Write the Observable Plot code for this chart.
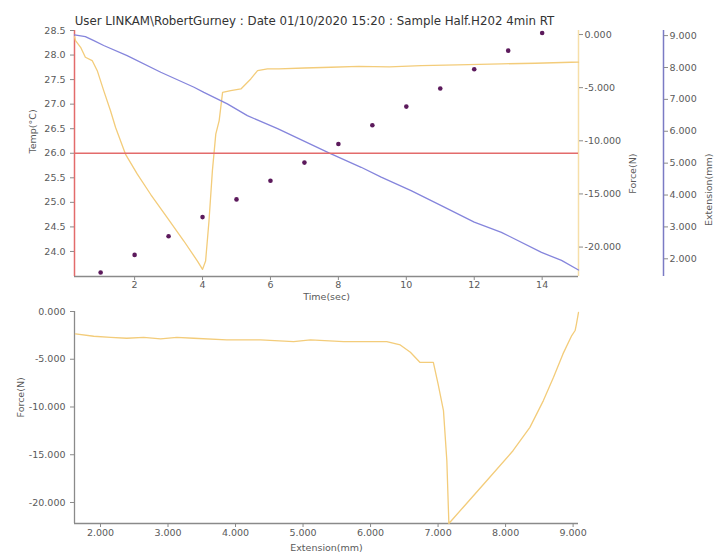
<!DOCTYPE html>
<html><head><meta charset="utf-8">
<script src="https://cdn.jsdelivr.net/npm/d3@7"></script>
<script src="https://cdn.jsdelivr.net/npm/@observablehq/plot@0.6"></script>
<style>
body{margin:0;background:#fff;}
#wrap{position:relative;width:717px;height:554px;overflow:hidden;background:#fff;}
#wrap svg{position:absolute;left:0;}
</style></head><body><div id="wrap"></div>
<script>
const title = "User LINKAM\\RobertGurney : Date 01/10/2020 15:20 : Sample Half.H202 4min RT";

// Top panel: temperature dots vs time
const dotTimes = [1,2,3,4,5,6,7,8,9,10,11,12,13,14];
const dotTemps = [23.57,23.93,24.31,24.70,25.06,25.44,25.81,26.19,26.57,26.95,27.32,27.71,28.09,28.45];
const setTemp = 26.0;

// Top panel: force vs time
const forceTimes = [0.23,0.26,0.41,0.55,0.75,0.90,1.09,1.29,1.44,1.73,2.08,2.47,2.96,3.45,3.85,4.00,4.09,4.19,4.29,4.39,4.49,4.59,4.83,5.13,5.42,5.62,5.91,6.25,7.0,7.78,8.6,9.5,10.44,11.5,12.8,13.8,14.86,15.07];
const forceVals = [-0.2,-0.57,-1.2,-2.14,-2.45,-3.4,-5.28,-7.17,-8.75,-11.25,-13.14,-15.03,-17.24,-19.43,-21.32,-22.1,-21.32,-17.55,-12.83,-9.37,-8.1,-5.44,-5.28,-5.12,-4.18,-3.4,-3.24,-3.24,-3.15,-3.08,-3.0,-3.05,-2.92,-2.85,-2.76,-2.7,-2.61,-2.6];

// Top panel: extension vs time
const extTimes = [0.23,0.55,0.80,1.09,1.78,2.77,3.75,4.04,4.73,5.32,6.21,7.72,8.67,9.26,10.14,11.03,12.0,12.8,13.98,14.57,15.07];
const extVals = [9.02,8.97,8.84,8.69,8.37,7.85,7.38,7.22,6.86,6.49,6.08,5.32,4.87,4.56,4.14,3.67,3.15,2.83,2.20,1.95,1.65];

// Bottom panel: force vs extension
const extX = [1.63,1.90,2.15,2.39,2.64,2.89,3.13,3.38,3.87,4.37,4.86,5.11,5.60,6.24,6.44,6.59,6.73,6.93,7.00,7.08,7.13,7.16,7.37,7.72,8.11,8.36,8.56,8.71,8.85,8.98,9.03,9.05,9.08];
const extForce = [-2.34,-2.59,-2.70,-2.80,-2.70,-2.86,-2.70,-2.80,-2.97,-2.97,-3.15,-2.97,-3.15,-3.15,-3.5,-4.27,-5.32,-5.32,-7.58,-10.38,-15.63,-22.2,-20.52,-17.72,-14.58,-12.13,-9.33,-6.89,-4.44,-2.52,-1.99,-1.29,-0.1];

// Ticks and domains
const timeTicks = [2,4,6,8,10,12,14];
const tempTicks = [24.0,24.5,25.0,25.5,26.0,26.5,27.0,27.5,28.0,28.5];
const forceTicks = [0,-5,-10,-15,-20];
const extTicks = [2,3,4,5,6,7,8,9];
const timeDomain = [0.23, 15.07];
const tempDomain = [23.49, 28.5];
const forceDomain = [-22.77, 0.38];
const extDomain = [1.445, 9.16];
const extDomain2 = [1.615, 9.08];
const forceDomain2 = [-22.2, 0];

const tempRows = dotTimes.map((t,i)=>({t, temp: dotTemps[i]}));
const forceRows = forceTimes.map((t,i)=>({t, f: forceVals[i]}));
const extRows = extTimes.map((t,i)=>({t, e: extVals[i]}));
const feRows = extX.map((e,i)=>({e, f: extForce[i]}));

const font = "DejaVu Sans";
const orange = "#f3cc7a";
const baseStyle = {fontFamily: font, fontSize: "9.5px", background: "transparent", color: "#5a5a5a", overflow: "visible"};
const common = {width: 717, height: 305, marginTop: 30, marginBottom: 29, marginLeft: 74, marginRight: 139, style: baseStyle};
const f3 = d => d.toFixed(3);

const A = Plot.plot({
  ...common,
  x: {domain: timeDomain},
  y: {domain: tempDomain},
  marks: [
    Plot.ruleY([tempDomain[0]], {stroke: "#8a8a8a", strokeWidth: 1.3}),
    Plot.ruleX([timeDomain[0]], {stroke: "#e36b6b", strokeWidth: 1.5}),
    Plot.axisX({ticks: timeTicks, tickSize: 4, tickPadding: 1, label: null, tickFormat: d => String(d), stroke: "#8a8a8a"}),
    Plot.axisY({ticks: tempTicks, tickSize: 4, label: null, tickFormat: d => d.toFixed(1), stroke: "#8a8a8a"}),
    Plot.text([title], {text: d => d, frameAnchor: "top", dy: -14, dx: -12, fontSize: 11.8, fill: "#333"}),
    Plot.text(["Temp(°C)"], {text: d => d, frameAnchor: "left", dx: -42, rotate: -90}),
    Plot.text(["Time(sec)"], {text: d => d, frameAnchor: "bottom", dy: 23})
  ]
});

const B = Plot.plot({
  ...common,
  x: {domain: timeDomain, axis: null},
  y: {domain: forceDomain},
  marks: [
    Plot.ruleX([timeDomain[1]], {stroke: "#f6dfa8", strokeWidth: 1.5}),
    Plot.line(forceRows, {x: "t", y: "f", stroke: orange, strokeWidth: 1.3}),
    Plot.axisY({anchor: "right", ticks: forceTicks, tickSize: 4, tickPadding: 2, label: null, tickFormat: f3, stroke: "#8a8a8a"}),
    Plot.text(["Force(N)"], {text: d => d, frameAnchor: "right", dx: 54, rotate: -90})
  ]
});

const C = Plot.plot({
  ...common,
  x: {domain: timeDomain, axis: null},
  y: {domain: extDomain},
  marks: [
    Plot.line(extRows, {x: "t", y: "e", stroke: "#8585dc", strokeWidth: 1.3}),
    Plot.ruleX([timeDomain[1]], {dx: 85, stroke: "#7b7bc4", strokeWidth: 1.5}),
    Plot.axisY({anchor: "right", dx: 85, ticks: extTicks, tickSize: 4, tickPadding: 2, label: null, tickFormat: f3, stroke: "#8a8a8a"}),
    Plot.text(["Extension(mm)"], {text: d => d, frameAnchor: "right", dx: 130, rotate: -90})
  ]
});

const D = Plot.plot({
  ...common,
  x: {domain: timeDomain, axis: null},
  y: {domain: tempDomain, axis: null},
  marks: [
    Plot.ruleY([setTemp], {stroke: "#e36b6b", strokeWidth: 1.3}),
    Plot.dot(tempRows, {x: "t", y: "temp", r: 2.3, fill: "#5c1a5c", stroke: "none"})
  ]
});

const E = Plot.plot({
  width: 717, height: 254, marginTop: 11, marginBottom: 31, marginLeft: 74, marginRight: 139,
  style: baseStyle,
  x: {domain: extDomain2},
  y: {domain: forceDomain2},
  marks: [
    Plot.ruleX([extDomain2[0]], {stroke: "#8a8a8a", strokeWidth: 1.3}),
    Plot.ruleY([forceDomain2[0]], {stroke: "#8a8a8a", strokeWidth: 1.3}),
    Plot.line(feRows, {x: "e", y: "f", stroke: orange, strokeWidth: 1.3}),
    Plot.axisX({ticks: extTicks, tickSize: 4, tickPadding: 2, label: null, tickFormat: f3, stroke: "#8a8a8a"}),
    Plot.axisY({ticks: forceTicks, tickSize: 4, label: null, tickFormat: f3, stroke: "#8a8a8a"}),
    Plot.text(["Force(N)"], {text: d => d, frameAnchor: "left", dx: -54, rotate: -90}),
    Plot.text(["Extension(mm)"], {text: d => d, frameAnchor: "bottom", dy: 27})
  ]
});

const wrap = document.getElementById("wrap");
[A, B, C, D].forEach(s => { s.style.top = "0px"; wrap.appendChild(s); });
E.style.top = "300px";
wrap.appendChild(E);
</script></body></html>
